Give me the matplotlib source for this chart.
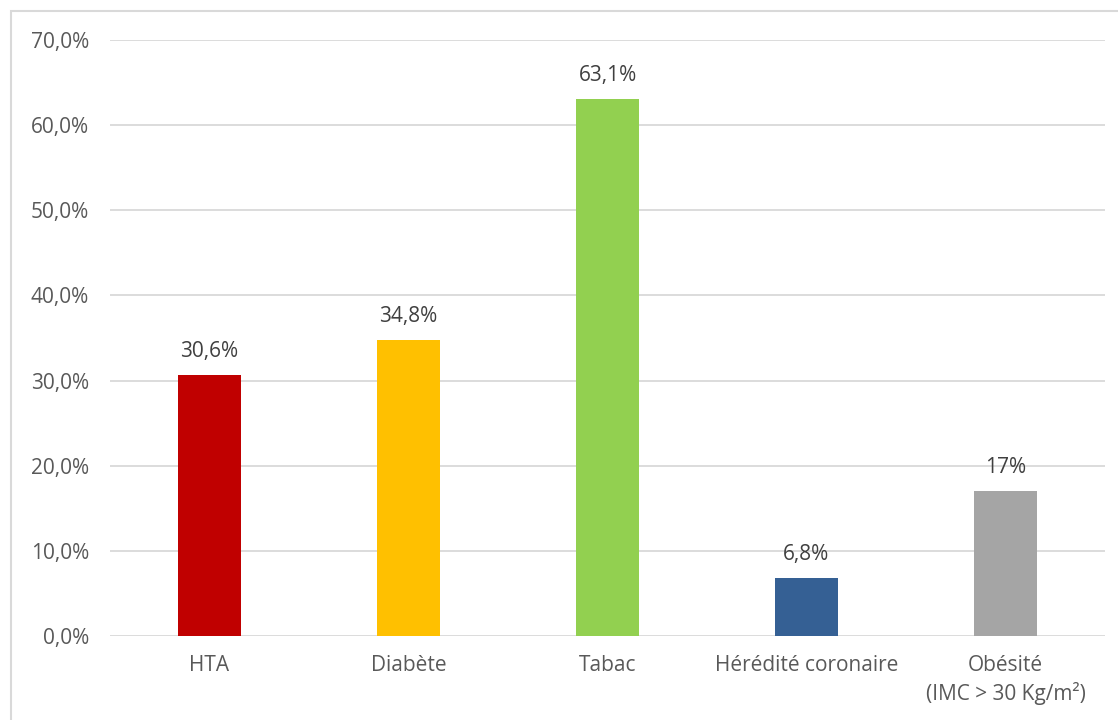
import matplotlib
matplotlib.use("Agg")
import matplotlib.pyplot as plt
from matplotlib.patches import Rectangle

categories = ["HTA", "Diabète", "Tabac", "Hérédité coronaire", "Obésité\n(IMC > 30 Kg/m²)"]
values = [30.6, 34.8, 63.1, 6.8, 17.0]
value_labels = ["30,6%", "34,8%", "63,1%", "6,8%", "17%"]
colors = ["#C00000", "#FFC000", "#92D050", "#356094", "#A5A5A5"]
yticks = [0, 10, 20, 30, 40, 50, 60, 70]
ytick_labels = ["0,0%", "10,0%", "20,0%", "30,0%", "40,0%", "50,0%", "60,0%", "70,0%"]

plt.rcParams["font.family"] = ["Open Sans", "DejaVu Sans"]
tick_color = "#595959"
value_color = "#404040"
fs = 15

W, H = 1118, 720
fig = plt.figure(figsize=(W / 100, H / 100), dpi=100)
fig.patch.set_facecolor("white")

# chart frame
fig.patches.append(Rectangle((11 / W, -0.1), 1.2, 1 - 11 / H + 0.1,
                             transform=fig.transFigure, fill=False,
                             edgecolor="#D9D9D9", linewidth=1.5))

left, right = 110 / W, 1105 / W
top, bottom = 1 - 40 / H, 1 - 636 / H
ax = fig.add_axes([left, bottom, right - left, top - bottom])

x = range(len(categories))
ax.bar(x, values, width=0.32, color=colors, zorder=3)
ax.set_xlim(-0.5, len(categories) - 0.5)
ax.set_ylim(0, 70)
ax.set_yticks(yticks)
ax.set_yticklabels(ytick_labels)
ax.set_xticks(list(x))
ax.set_xticklabels(categories, linespacing=1.3)
ax.yaxis.grid(True, color="#D9D9D9", linewidth=1.3, zorder=0)
ax.set_axisbelow(True)
for s in ax.spines.values():
    s.set_visible(False)
ax.tick_params(axis="both", length=0, labelsize=fs, colors=tick_color)
ax.tick_params(axis="y", pad=15)
ax.tick_params(axis="x", pad=14)

for xi, v, lab in zip(x, values, value_labels):
    ax.annotate(lab, (xi, v), xytext=(0, 17), textcoords="offset points",
                ha="center", va="center", fontsize=fs, color=value_color)

fig.savefig("out.png", dpi=100)
